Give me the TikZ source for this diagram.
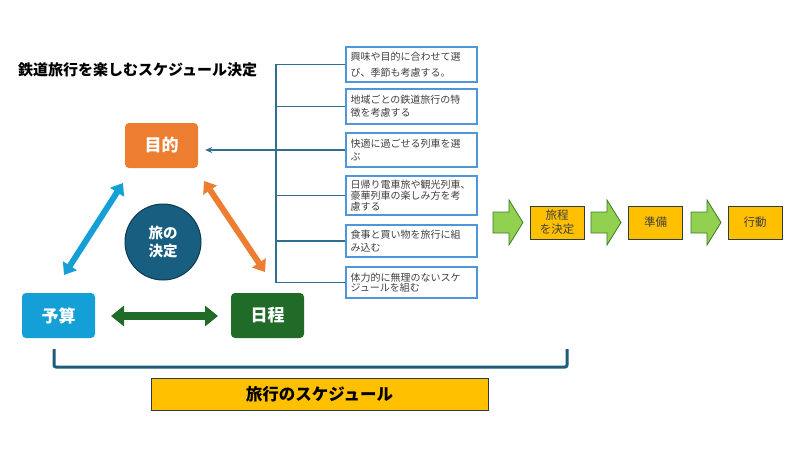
\documentclass[tikz,border=0pt]{standalone}
\usepackage{fontspec}
\setmainfont{Noto Sans CJK JP}
\usetikzlibrary{arrows.meta}
\definecolor{orangeC}{HTML}{ED7D31}
\definecolor{blueC}{HTML}{14A0D6}
\definecolor{greenC}{HTML}{1F6B27}
\definecolor{circC}{HTML}{175E80}
\definecolor{circD}{HTML}{0E3A50}
\definecolor{treeC}{HTML}{2F6F8F}
\definecolor{sideC}{HTML}{4F96DA}
\definecolor{textC}{HTML}{404040}
\definecolor{yellowC}{HTML}{FFC000}
\definecolor{limeC}{HTML}{92D050}
\definecolor{limeD}{HTML}{3E7A2A}
\definecolor{brC}{HTML}{1E5C7B}
\definecolor{boxD}{HTML}{2E3B45}
\tikzset{
  mainbox/.style={minimum width=73pt, minimum height=45pt, rounded corners=4pt, text=white, inner sep=0pt,
    font=\bfseries\fontsize{17}{20}\selectfont},
  sidebox/.style={draw=sideC, line width=1.5pt, fill=white, text=textC, align=left, text width=122pt,
    inner xsep=4.5pt, inner ysep=0pt, minimum width=131pt, font=\fontsize{10}{#1}\selectfont},
  tree/.style={draw=treeC, line width=1.3pt},
  dblarrow/.style={line width=6pt, {Triangle[width=16pt,length=11pt]}-{Triangle[width=16pt,length=11pt]}},
  dblarrowG/.style={line width=8pt, {Triangle[width=20pt,length=13pt]}-{Triangle[width=20pt,length=13pt]}},
  flowbox/.style={fill=yellowC, draw=boxD, line width=0.8pt, minimum width=54pt, minimum height=33pt,
    inner sep=0pt, align=center, text=textC, font=\fontsize{11.5}{14}\selectfont},
  flowarrow/.style={fill=limeC, draw=limeD, line width=0.8pt, line join=miter}
}
\newcommand\flowarr[1]{\draw[flowarrow] (#1,212) -- (#1+16,212) -- (#1+16,200) -- (#1+30,222.5) -- (#1+16,245) -- (#1+16,233) -- (#1,233) -- cycle;}
\begin{document}
\begin{tikzpicture}[x=1pt,y=-1pt]
\fill[white] (0,0) rectangle (800,450);
\useasboundingbox (0,0) rectangle (800,450);

% title
\node[anchor=west, inner sep=0pt, font=\bfseries\fontsize{15}{18}\selectfont] (title) at (18,70) {鉄道旅行を楽しむスケジュール決定};

% main boxes
\node[mainbox, fill=orangeC] (mok) at (161.5,145.5) {目的};
\node[mainbox, fill=blueC] (yos) at (58.5,315.5) {予算};
\node[mainbox, fill=greenC] (nit) at (267.5,315.5) {日程};
\node[circle, fill=circC, draw=circD, line width=1pt, minimum size=76pt, inner sep=0pt, text=white, align=center,
  font=\bfseries\fontsize{14.5}{18.5}\selectfont] (ket) at (163,242) {旅の\\決定};

% double arrows
\coordinate (a1) at (123,183); \coordinate (a2) at (64,275);
\coordinate (o1) at (204,181); \coordinate (o2) at (265,272);
\coordinate (g1) at (111,316); \coordinate (g2) at (218,316);
\draw[dblarrow, draw=blueC, fill=blueC] (a1) -- (a2);
\draw[dblarrow, draw=orangeC, fill=orangeC] (o1) -- (o2);
\draw[dblarrowG, draw=greenC, fill=greenC] (g1) -- (g2);

% side boxes
\node[sidebox=15.5pt, minimum height=35pt] (b1) at (411.5,64.5) {興味や目的に合わせて選\\び、季節も考慮する。};
\node[sidebox=12.7pt, minimum height=35pt] (b2) at (411.5,106.5) {地域ごとの鉄道旅行の特\\徴を考慮する};
\node[sidebox=13.3pt, minimum height=34pt] (b3) at (411.5,150) {快適に過ごせる列車を選\\ぶ};
\node[sidebox=11pt, minimum height=39pt] (b4) at (411.5,195.5) {日帰り電車旅や観光列車、\\豪華列車の楽しみ方を考\\慮する};
\node[sidebox=13pt, minimum height=32pt] (b5) at (411.5,241) {食事と買い物を旅行に組\\み込む};
\node[sidebox=10.5pt, minimum height=31pt] (b6) at (411.5,282.5) {体力的に無理のないスケ\\ジュールを組む};

% tree
\coordinate (tx) at (276,0);
\draw[tree] (b1.west) -| (tx |- b6.west) -- (b6.west);
\foreach \b in {b2,b3,b4,b5} \draw[tree] (\b.west) -- (tx |- \b.west);
\draw[tree, -{Stealth[length=7pt,width=6pt]}, shorten >=7pt] (tx |- b3.west) -- (mok.east |- b3.west);

% flow
\flowarr{493}
\node[flowbox] (f1) at (557,222.5) {旅程\\を決定};
\flowarr{591}
\node[flowbox] (f2) at (655.5,222.5) {準備};
\flowarr{691}
\node[flowbox] (f3) at (755,222.5) {行動};

% bracket and schedule
\draw[draw=brC, line width=3pt, rounded corners=2pt] (54,349) -- (54,367) -- (567,367) -- (567,349);
\node[fill=yellowC, draw=boxD, line width=1pt, minimum width=337pt, minimum height=32pt, inner sep=0pt,
  font=\bfseries\fontsize{16.5}{19}\selectfont] (sch) at (319.5,394) {旅行のスケジュール};
\end{tikzpicture}
\end{document}
